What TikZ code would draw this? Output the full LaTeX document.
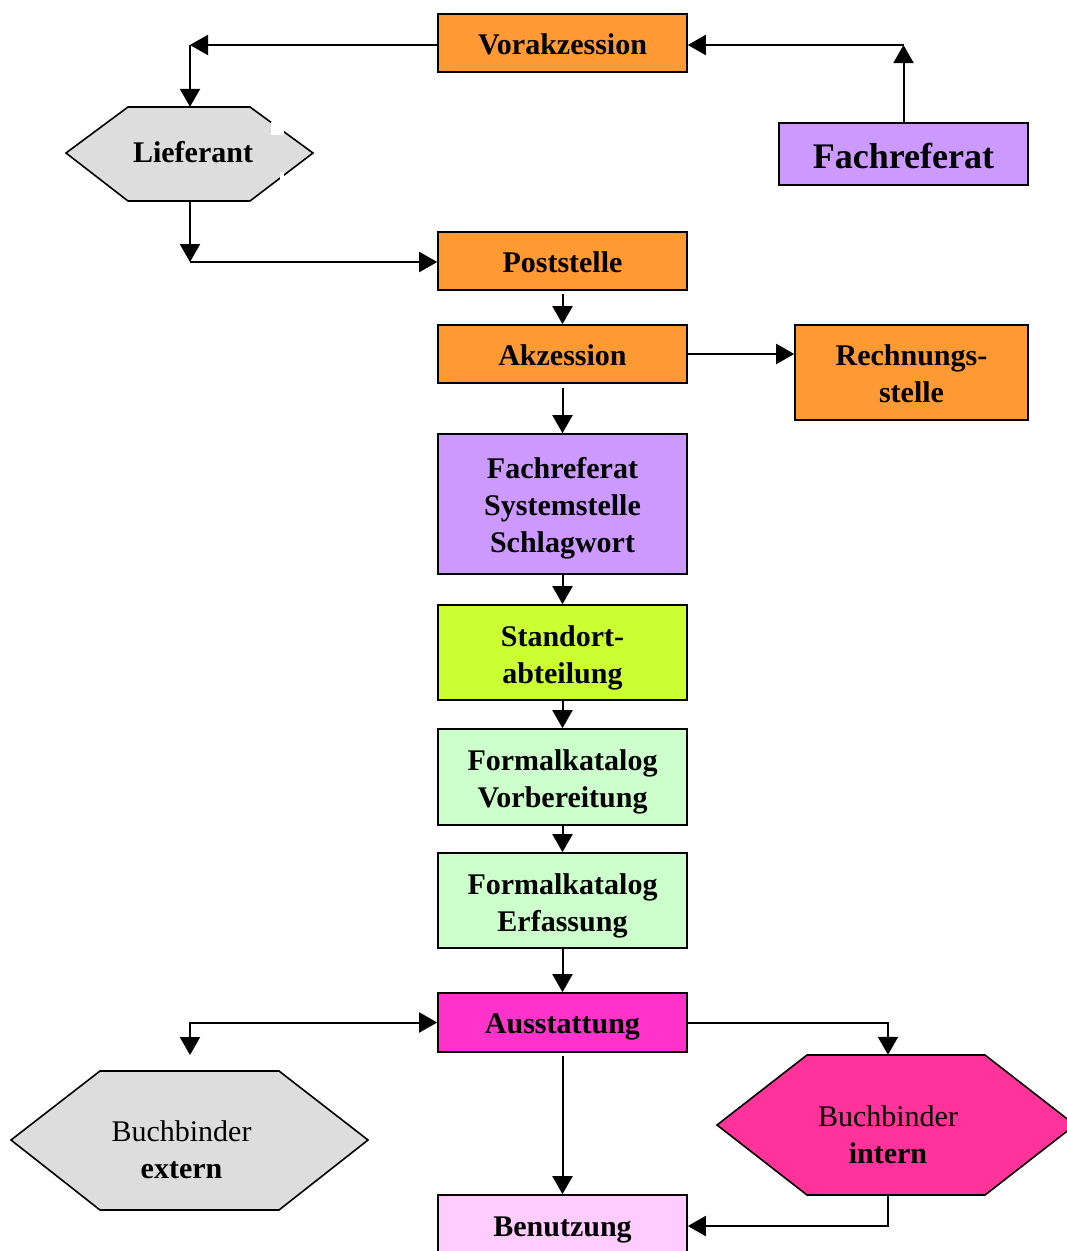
\documentclass[tikz,border=0pt]{standalone}
\usepackage{fontspec}
\setmainfont{Liberation Serif}
\usetikzlibrary{arrows.meta}
\definecolor{cOrange}{HTML}{FF9933}
\definecolor{cPurple}{HTML}{CC99FF}
\definecolor{cGray}{HTML}{DDDDDD}
\definecolor{cLime}{HTML}{CCFF33}
\definecolor{cGreen}{HTML}{CCFFCC}
\definecolor{cMag}{HTML}{FF33CC}
\definecolor{cHot}{HTML}{FF3399}
\definecolor{cPink}{HTML}{FFCCFF}
\begin{document}
\begin{tikzpicture}[x=1pt,y=-1pt,
  box/.style={draw=black,line width=1.6pt,minimum width=249pt,inner sep=0pt},
  btext/.style={align=center,inner sep=0pt,font=\bfseries\fontsize{30}{37}\selectfont},
  hexlabel/.style={align=center,inner sep=0pt,font=\fontsize{30}{37}\selectfont},
  hexshape/.style={draw=black,line width=1.6pt},
  conn/.style={line width=2pt,-{Triangle[length=18pt,width=20pt]}},
  bothconn/.style={line width=2pt,{Triangle[length=18pt,width=20pt]}-{Triangle[length=18pt,width=20pt]}}
]
\useasboundingbox (0,0) rectangle (1067,1251);

% boxes
\node[box,fill=cOrange,minimum height=58pt] (vor) at (562.5,43) {};
\node[btext] (vorT) at (562.5,44) {Vorakzession};
\node[box,fill=cPurple,minimum height=62pt] (fr) at (903.5,154) {};
\node[btext,font=\bfseries\fontsize{36}{43}\selectfont] (frT) at (903.5,156) {Fachreferat};
\node[box,fill=cOrange,minimum height=58pt] (post) at (562.5,261) {};
\node[btext] (postT) at (562.5,262) {Poststelle};
\node[box,fill=cOrange,minimum height=58pt] (akz) at (562.5,354) {};
\node[btext] (akzT) at (562.5,355) {Akzession};
\node[box,fill=cOrange,minimum width=233pt,minimum height=95pt] (rech) at (911.5,372.5) {};
\node[btext] (rechT) at (911.5,374) {Rechnungs-\\stelle};
\node[box,fill=cPurple,minimum height=140pt] (fss) at (562.5,504) {};
\node[btext] (fssT) at (562.5,508) {Fachreferat\\Systemstelle\\Schlagwort};
\node[box,fill=cLime,minimum height=95pt] (sta) at (562.5,652.5) {};
\node[btext] (staT) at (562.5,657.5) {Standort-\\abteilung};
\node[box,fill=cGreen,minimum height=96pt] (fkv) at (562.5,777) {};
\node[btext] (fkvT) at (562.5,782) {Formalkatalog\\Vorbereitung};
\node[box,fill=cGreen,minimum height=95pt] (fke) at (562.5,900.5) {};
\node[btext] (fkeT) at (562.5,905.5) {Formalkatalog\\Erfassung};
\node[box,fill=cMag,minimum height=59pt] (aus) at (562.5,1022.5) {};
\node[btext] (ausT) at (562.5,1027) {Ausstattung};
\node[box,fill=cPink,minimum height=62pt] (ben) at (562.5,1226) {};
\node[btext] (benT) at (562.5,1230) {Benutzung};

% hexagons
\filldraw[hexshape,fill=cGray] (66,153) -- (128,107) -- (250,107) -- (313,153) -- (250,201) -- (128,201) -- cycle;
\fill[white] (271,122) rectangle (284,135);
\fill[white] (280,172) rectangle (284,181);
\node[inner sep=0pt,minimum width=240pt,minimum height=94pt] (lief) at (190,154) {};
\node[btext] (liefT) at (193,152) {Lieferant};

\filldraw[hexshape,fill=cGray] (11,1140) -- (100,1071) -- (279,1071) -- (368,1140) -- (279,1210) -- (100,1210) -- cycle;
\node[hexlabel] (bx) at (181.5,1150) {Buchbinder\\\textbf{extern}};

\filldraw[hexshape,fill=cHot] (717,1125) -- (807,1055) -- (985,1055) -- (1075,1125) -- (985,1195) -- (807,1195) -- cycle;
\node[inner sep=0pt,minimum width=200pt,minimum height=140pt] (bi) at (888,1125) {};
\node[hexlabel] (biT) at (888,1135) {Buchbinder\\\textbf{intern}};

% connectors
\coordinate (c1) at (190,45);
\coordinate (c2) at (903.5,45);
\coordinate (c3) at (190,262);
\coordinate (c4) at (190,1055);

\draw[conn] (c1 -| vor.west) -- (c1);
\draw[conn] (c1) -- (c1 |- lief.north);
\draw[conn] (fr.north) -- (c2);
\draw[conn] (c2) -- (c2 -| vor.east);
\draw[conn] (lief.south) -- (c3);
\draw[conn] (c3) -- (c3 -| post.west);
\draw[conn,shorten <=3pt] (post) -- (akz);
\draw[conn] (akz.east) -- (akz.east -| rech.west);
\draw[conn,shorten <=4pt] (akz) -- (fss);
\draw[conn] (fss) -- (sta);
\draw[conn] (sta) -- (fkv);
\draw[conn] (fkv) -- (fke);
\draw[conn] (fke) -- (aus);
\draw[bothconn] (c4) |- (aus.west);
\draw[conn] (aus.east) -| (bi.north);
\draw[conn,shorten <=3pt] (aus) -- (ben);
\draw[conn] (bi.south) |- (ben.east);
\end{tikzpicture}
\end{document}
